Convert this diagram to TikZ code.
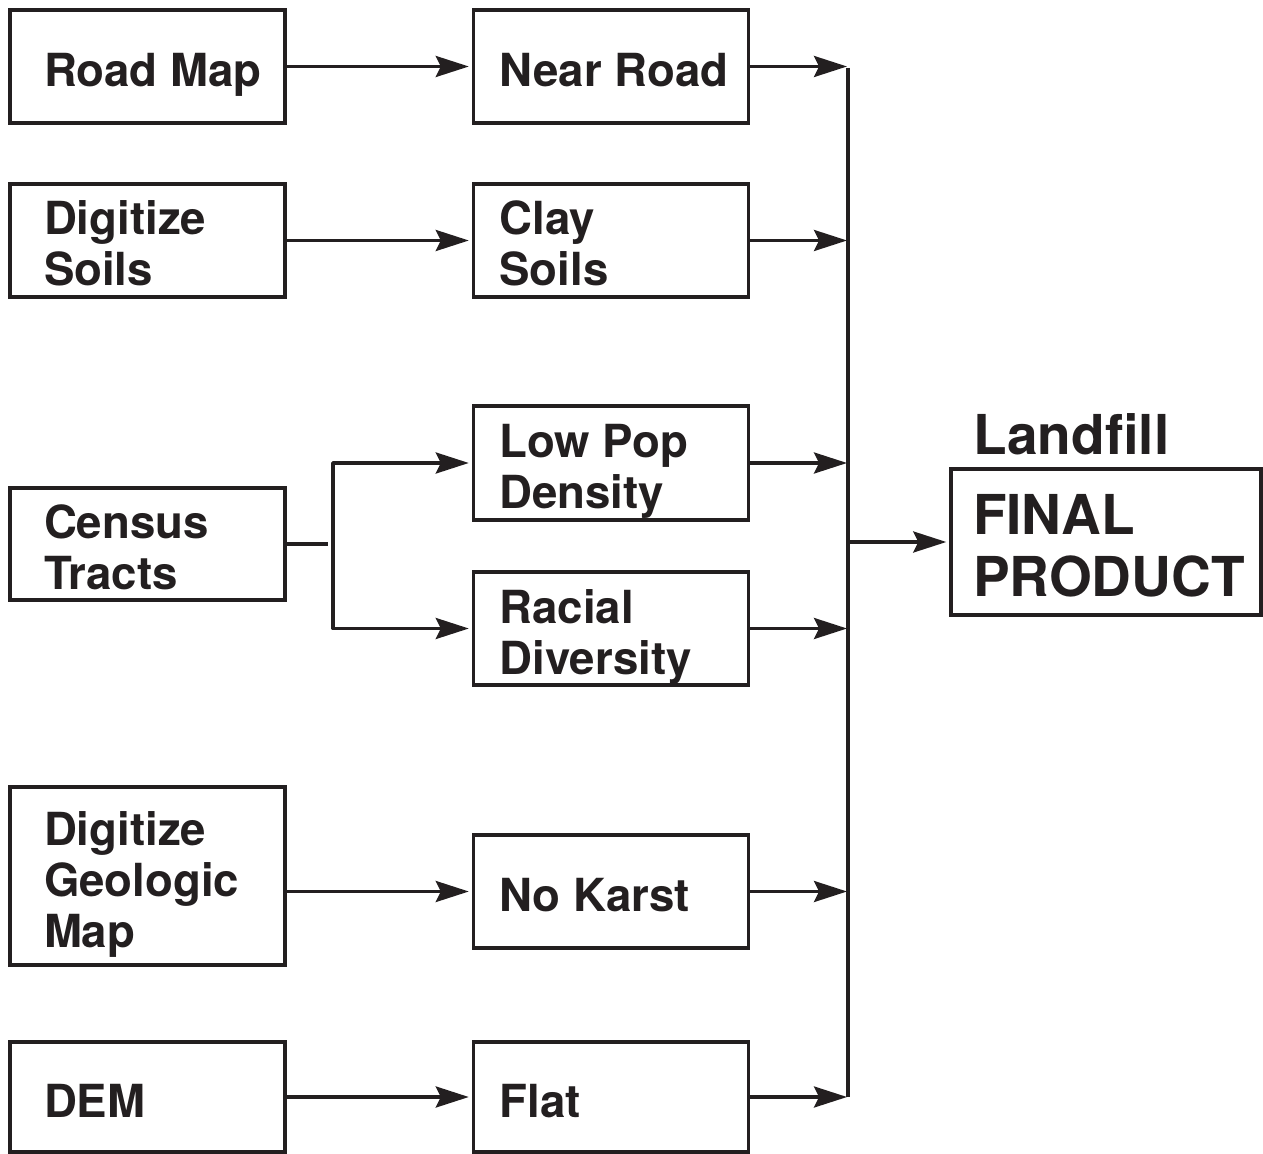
\documentclass[tikz,border=0pt]{standalone}
\usepackage{fontspec}
\setmainfont{TeX Gyre Heros}
\usepackage{xcolor}
\usepackage{tikz}
\usetikzlibrary{arrows.meta}
\definecolor{ink}{HTML}{231F20}

\begin{document}
\begin{tikzpicture}[x=0.5pt,y=-0.5pt,line width=1.7pt,draw=ink,
  >={Stealth[length=16.5pt,width=10.5pt,inset=2.5pt]},
  box/.style={draw=ink,inner sep=0,minimum width=137.5pt,minimum height=#1},
  txt/.style={anchor=west,align=left,inner sep=0,text=ink,text height=#1,text depth=0pt,
    yshift=-2pt,font=\bfseries\fontsize{22.8}{25.5}\selectfont},
  txt/.default=16pt,
  big/.style={inner sep=0,text=ink,font=\bfseries\fontsize{27.5}{31}\selectfont}]
  \useasboundingbox (0,0) rectangle (1263,1154);
  % first column
  \node[box=56.5pt] (roadmap) at (147.5,66.5) {};
  \node[txt] (roadmapT) at ([xshift=17pt]roadmap.west) {Road Map};
  \node[box=56.5pt] (digsoils) at (147.5,240.5) {};
  \node[txt=41.5pt] (digsoilsT) at ([xshift=17pt]digsoils.west) {Digitize\\Soils};
  \node[box=56pt] (census) at (147.5,544) {};
  \node[txt=41.5pt] (censusT) at ([xshift=17pt]census.west) {Census\\Tracts};
  \node[box=89pt] (diggeo) at (147.5,876) {};
  \node[txt=67pt] (diggeoT) at ([xshift=17pt]diggeo.west) {Digitize\\Geologic\\Map};
  \node[box=55pt] (dem) at (147.5,1097) {};
  \node[txt] (demT) at ([xshift=17pt]dem.west) {DEM};
  % second column
  \node[box=56.5pt] (nearroad) at (611,66.5) {};
  \node[txt] (nearroadT) at ([xshift=13pt]nearroad.west) {Near Road};
  \node[box=56.5pt] (claysoils) at (611,240.5) {};
  \node[txt=41.5pt] (claysoilsT) at ([xshift=13pt]claysoils.west) {Clay\\Soils};
  \node[box=57pt] (lowpop) at (611,463) {};
  \node[txt=41.5pt] (lowpopT) at ([xshift=13pt]lowpop.west) {Low Pop\\Density};
  \node[box=56.5pt] (racial) at (611,628.5) {};
  \node[txt=41.5pt] (racialT) at ([xshift=13pt]racial.west) {Racial\\Diversity};
  \node[box=56.5pt] (nokarst) at (611,891.5) {};
  \node[txt] (nokarstT) at ([xshift=13pt]nokarst.west) {No Karst};
  \node[box=55pt] (flat) at (611,1097) {};
  \node[txt] (flatT) at ([xshift=13pt]flat.west) {Flat};
  % result
  \node[box=73pt,minimum width=155pt] (final) at (1106,542) {};
  \node[big,anchor=west,align=left,text height=50.5pt,text depth=0pt,yshift=-2pt] (finalT)
    at ([xshift=11pt]final.west) {FINAL\\PRODUCT};
  \node[big,anchor=base west] (landfill) at (972,455) {Landfill};
  % connectors
  \coordinate (bustop) at (848,68);
  \coordinate (busbot) at (848,1097);
  \coordinate (split) at (333,544);
  \draw[->,shorten >=1.5pt] (roadmap.east) -- (nearroad.west);
  \draw[->,shorten >=1.5pt] (digsoils.east) -- (claysoils.west);
  \draw (census.east) -- ([xshift=-2.5pt]split);
  \draw[<->,line join=round,shorten <=1.5pt,shorten >=1.5pt]
    (lowpop.west) -- (split |- lowpop.west) -- (split |- racial.west) -- (racial.west);
  \draw[->,shorten >=1.5pt] (diggeo.east |- nokarst.west) -- (nokarst.west);
  \draw[->,shorten >=1.5pt] (dem.east) -- (flat.west);
  \draw (bustop) -- (busbot);
  \draw[->,shorten >=0.5pt] (nearroad.east) -- (nearroad.east -| bustop);
  \draw[->,shorten >=0.5pt] (claysoils.east) -- (claysoils.east -| bustop);
  \draw[->,shorten >=0.5pt] (lowpop.east) -- (lowpop.east -| bustop);
  \draw[->,shorten >=0.5pt] (racial.east) -- (racial.east -| bustop);
  \draw[->,shorten >=0.5pt] (nokarst.east) -- (nokarst.east -| bustop);
  \draw[->,shorten >=0.5pt] (flat.east) -- (flat.east -| bustop);
  \draw[->,shorten <=1pt,shorten >=1.5pt] (final.west -| bustop) -- (final.west);
\end{tikzpicture}
\end{document}
